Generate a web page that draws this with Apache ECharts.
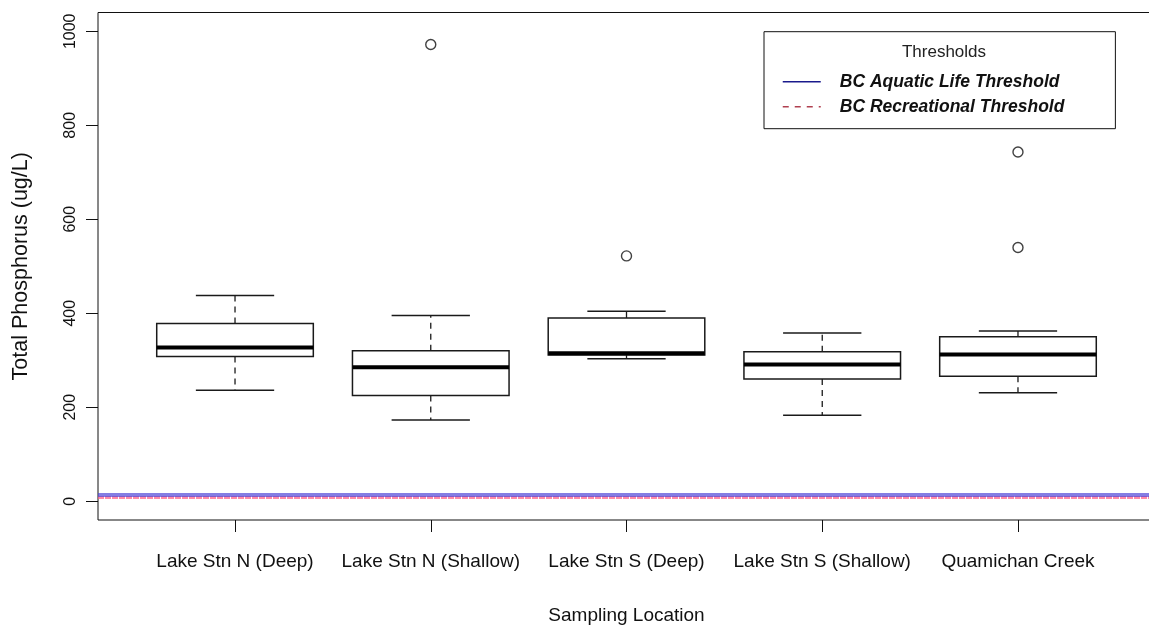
<!DOCTYPE html>
<html>
<head>
<meta charset="utf-8">
<script src="https://cdn.jsdelivr.net/npm/echarts@6/dist/echarts.min.js"></script>
<style>
html,body{margin:0;padding:0;background:#fff;}
#chart{width:1149px;height:625px;}
</style>
</head>
<body>
<div id="chart"></div>
<script>
// ---- data ----
const categories = ['Lake Stn N (Deep)', 'Lake Stn N (Shallow)', 'Lake Stn S (Deep)', 'Lake Stn S (Shallow)', 'Quamichan Creek'];
const lowerWhisker = [236, 173, 303, 183, 231];
const q1Values     = [308, 225, 311, 260, 266];
const medianValues = [327, 285, 315, 291, 312];
const q3Values     = [378, 320, 390, 318, 350];
const upperWhisker = [438, 395, 404, 358, 362];
const outlierCategory = [2, 3, 5, 5];
const outlierValues   = [972, 522, 743, 540];
const yTicks = [0, 200, 400, 600, 800, 1000];
const thresholdNames  = ['BC Aquatic Life Threshold', 'BC Recreational Threshold'];
const thresholdValues = [13, 8];

const FONT = "'Liberation Sans', Arial, sans-serif";
const xMin = 0.3, xMax = 5.7;

const boxData = categories.map((c, i) => [i + 1, lowerWhisker[i], q1Values[i], medianValues[i], q3Values[i], upperWhisker[i]]);
const outlierData = outlierValues.map((v, i) => [outlierCategory[i], v]);

function renderBox(params, api) {
  const x = api.value(0);
  const lo = api.coord([x, api.value(1)]);
  const q1 = api.coord([x, api.value(2)]);
  const md = api.coord([x, api.value(3)]);
  const q3 = api.coord([x, api.value(4)]);
  const hi = api.coord([x, api.value(5)]);
  const half = api.size([0.8, 0])[0] / 2;
  const cx = lo[0];
  const stroke = '#1a1a1a';
  return {
    type: 'group',
    children: [
      {type: 'line', shape: {x1: cx, y1: q3[1], x2: cx, y2: hi[1]}, style: {stroke, lineWidth: 1.3, lineDash: [6, 5]}},
      {type: 'line', shape: {x1: cx, y1: q1[1], x2: cx, y2: lo[1]}, style: {stroke, lineWidth: 1.3, lineDash: [6, 5]}},
      {type: 'line', shape: {x1: cx - half / 2, y1: hi[1], x2: cx + half / 2, y2: hi[1]}, style: {stroke, lineWidth: 1.5}},
      {type: 'line', shape: {x1: cx - half / 2, y1: lo[1], x2: cx + half / 2, y2: lo[1]}, style: {stroke, lineWidth: 1.5}},
      {type: 'rect', shape: {x: cx - half, y: q3[1], width: half * 2, height: q1[1] - q3[1]}, style: {fill: '#fff', stroke, lineWidth: 1.5}},
      {type: 'line', shape: {x1: cx - half, y1: md[1], x2: cx + half, y2: md[1]}, style: {stroke: '#000', lineWidth: 4}}
    ]
  };
}

const chart = echarts.init(document.getElementById('chart'), null, {renderer: 'canvas'});
chart.setOption({
  animation: false,
  backgroundColor: '#fff',
  textStyle: {fontFamily: FONT},
  grid: {left: 98, top: 12.5, width: 1057, height: 507.5, show: true, borderColor: '#111', borderWidth: 1,
    backgroundColor: 'transparent', containLabel: false, outerBoundsMode: 'none'},
  title: {
    text: 'Thresholds', left: 939, top: 39, textAlign: 'center',
    textStyle: {fontFamily: FONT, fontSize: 17, fontWeight: 'normal', color: '#222'}
  },
  legend: {
    orient: 'vertical', left: 764, top: 31.7,
    padding: [40, 51, 12, 18],
    itemWidth: 38, itemHeight: 14, itemGap: 5,
    borderColor: '#111', borderWidth: 1,
    textStyle: {fontFamily: FONT, fontSize: 17.5, fontStyle: 'italic', fontWeight: 'bold', color: '#111', lineHeight: 20, padding: [0, 0, 0, 14]},
    data: [
      {name: thresholdNames[0], itemStyle: {opacity: 0}, lineStyle: {color: '#1a1a8c', width: 1.5, type: 'solid', opacity: 1}},
      {name: thresholdNames[1], itemStyle: {opacity: 0}, lineStyle: {color: '#b04050', width: 1.5, type: [6, 6], opacity: 1}}
    ]
  },
  xAxis: {
    type: 'value', min: xMin, max: xMax,
    name: 'Sampling Location', nameLocation: 'middle', nameGap: 86,
    nameTextStyle: {fontFamily: FONT, fontSize: 19, color: '#111'},
    axisLine: {show: false, onZero: false},
    axisTick: {show: true, length: 12, customValues: [1, 2, 3, 4, 5], lineStyle: {color: '#111', width: 1}},
    axisLabel: {customValues: [1, 2, 3, 4, 5], margin: 32, fontFamily: FONT, fontSize: 19, color: '#111',
      formatter: v => categories[Math.round(v) - 1]},
    splitLine: {show: false}
  },
  yAxis: {
    type: 'value', min: -40, max: 1040,
    name: 'Total Phosphorus (ug/L)', nameLocation: 'middle', nameGap: 66, nameRotate: 90,
    nameTextStyle: {fontFamily: FONT, fontSize: 21.5, color: '#111'},
    axisLine: {show: false, onZero: false},
    axisTick: {show: true, length: 12, customValues: yTicks, lineStyle: {color: '#111', width: 1}},
    axisLabel: {customValues: yTicks, rotate: 90, margin: 19, fontFamily: FONT, fontSize: 16, color: '#111',
      formatter: v => String(v)},
    splitLine: {show: false}
  },
  series: [
    {
      name: thresholdNames[0], type: 'line', symbol: 'none', silent: true,
      lineStyle: {color: 'rgba(80,70,215,0.7)', width: 4},
      itemStyle: {color: '#1a1a8c'},
      data: [[xMin, thresholdValues[0]], [xMax, thresholdValues[0]]], z: 3
    },
    {
      name: thresholdNames[1], type: 'line', symbol: 'none', silent: true,
      lineStyle: {color: 'rgba(255,90,130,0.7)', width: 3, type: [6, 1]},
      itemStyle: {color: '#b04050'},
      data: [[xMin, thresholdValues[1]], [xMax, thresholdValues[1]]], z: 2
    },
    {
      type: 'custom', renderItem: renderBox, data: boxData, z: 4,
      encode: {x: 0, y: [1, 2, 3, 4, 5]}
    },
    {
      type: 'scatter', data: outlierData, symbol: 'circle', symbolSize: 10, z: 5,
      itemStyle: {color: 'transparent', borderColor: '#111', borderWidth: 1.4}
    }
  ]
});
</script>
</body>
</html>
